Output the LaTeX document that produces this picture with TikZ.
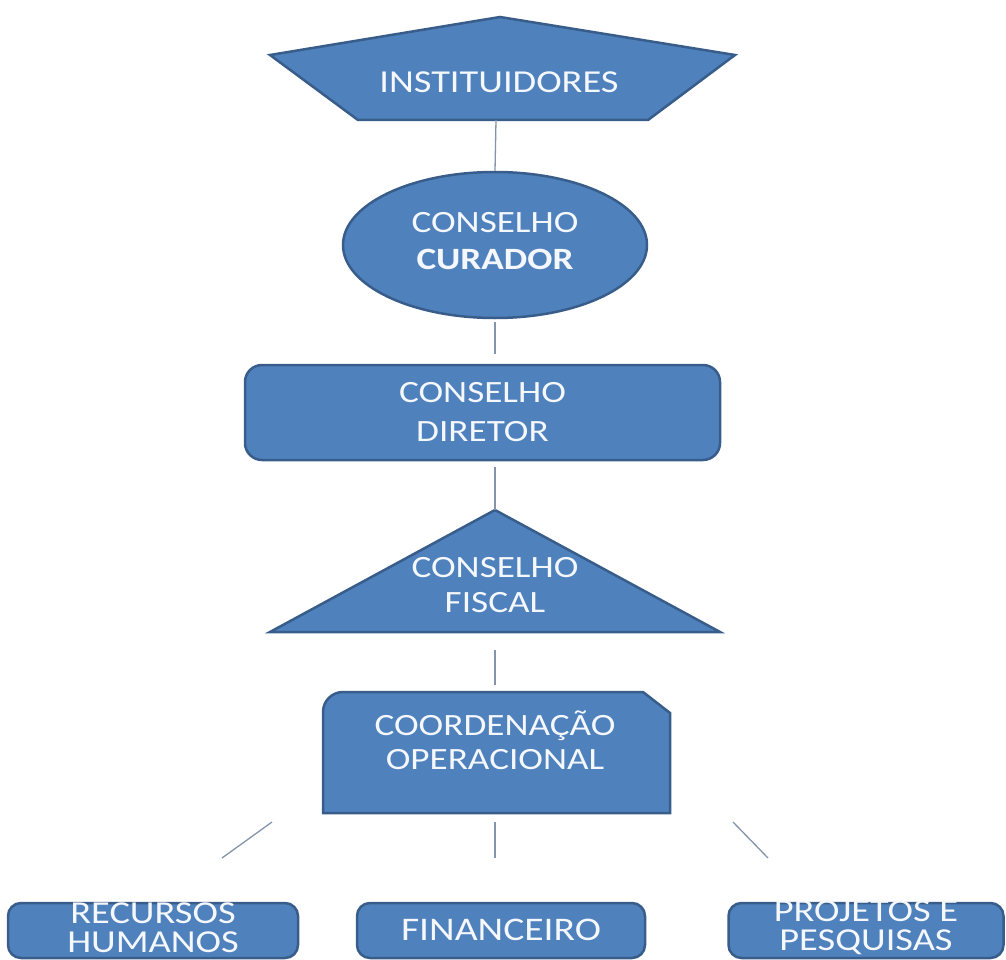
\documentclass[tikz,border=0pt]{standalone}
\usepackage{fontspec}
\setmainfont[FakeStretch=1.2]{Carlito}
\usetikzlibrary{shapes.geometric}
\definecolor{fillblue}{HTML}{4F81BD}
\definecolor{edgeblue}{HTML}{385D8A}
\definecolor{linkgray}{HTML}{8594AA}
\definecolor{txtwhite}{HTML}{F4F7FB}
\tikzset{
  shapebox/.style={fill=fillblue, draw=edgeblue, line width=2.5pt},
  lbl/.style={text=txtwhite, font=\fontsize{31}{37}\selectfont, align=center, inner sep=0pt},
  link/.style={draw=linkgray, line width=1.3pt},
  roundbox/.style={shapebox, rectangle, rounded corners=#1, inner sep=0pt},
}
\begin{document}
\begin{tikzpicture}[x=1pt,y=-1pt]
\useasboundingbox[fill=white] (0,0) rectangle (1006,960);

% INSTITUIDORES pentagon
\draw[shapebox] (500,17) -- (735,55) -- (648,120) -- (358,120) -- (270,55) -- cycle;
\coordinate (instB) at (496,120);
\node[lbl, font=\fontsize{32}{37}\selectfont] (inst) at (499,82) {INSTITUIDORES};

% CONSELHO CURADOR ellipse
\node[shapebox, ellipse, minimum width=304pt, minimum height=146pt, inner sep=0pt] (cur) at (495,245) {};
\node[lbl] (curtxt) at (495,241) {CONSELHO\\\textbf{CURADOR}};

% CONSELHO DIRETOR rounded rectangle
\node[roundbox=17pt, minimum width=475pt, minimum height=95pt] (dir) at (482.5,412.5) {};
\node[lbl, font=\fontsize{31}{39}\selectfont] (dirtxt) at (482.5,412.5) {CONSELHO\\DIRETOR};

% CONSELHO FISCAL triangle
\draw[shapebox] (495,510) -- (720,632) -- (270,632) -- cycle;
\coordinate (fisTop) at (495,510);
\coordinate (fisBase) at (495,632);
\node[lbl, font=\fontsize{31}{35}\selectfont] (fis) at (495,585) {CONSELHO\\FISCAL};

% COORDENACAO OPERACIONAL snip-round rectangle
\draw[shapebox] (323,813) -- (323,712) arc[start angle=180, end angle=270, radius=20] -- (643,692) -- (670,713) -- (670,813) -- cycle;
\coordinate (coordTop) at (495,692);
\node[lbl, font=\fontsize{31}{34}\selectfont] (coord) at (495,740) {COORDENAÇÃO\\OPERACIONAL};

% bottom boxes
\node[roundbox=13pt, minimum width=290pt, minimum height=55pt] (rh) at (153,930.5) {};
\node[lbl, font=\fontsize{32}{29}\selectfont] (rhtxt) at (153,928) {RECURSOS\\HUMANOS};
\node[roundbox=13pt, minimum width=288pt, minimum height=55pt] (fin) at (501,930.5) {};
\node[lbl, font=\fontsize{33}{37}\selectfont] (fintxt) at (501,930) {FINANCEIRO};
\node[roundbox=13pt, minimum width=275pt, minimum height=55pt] (pp) at (866,930.5) {};
\node[lbl, font=\fontsize{32}{29}\selectfont] (pptxt) at (866,928) {PROJETOS E\\PESQUISAS};

% connectors
\draw[link] (instB) -- (cur.north);
\draw[link, shorten <=3pt, shorten >=10pt] (cur.south) -- (cur.south |- dir.north);
\draw[link, shorten <=6pt] (dir.south -| fisTop) -- (fisTop);
\draw[link, shorten <=18pt, shorten >=7pt] (fisBase) -- (coordTop);

\coordinate (l1a) at (272,822); \coordinate (l1b) at (222,858);
\coordinate (l2a) at (495,822); \coordinate (l2b) at (495,858);
\coordinate (l3a) at (733,822); \coordinate (l3b) at (768,858);
\draw[link] (l1a) -- (l1b);
\draw[link] (l2a) -- (l2b);
\draw[link] (l3a) -- (l3b);
\end{tikzpicture}
\end{document}
